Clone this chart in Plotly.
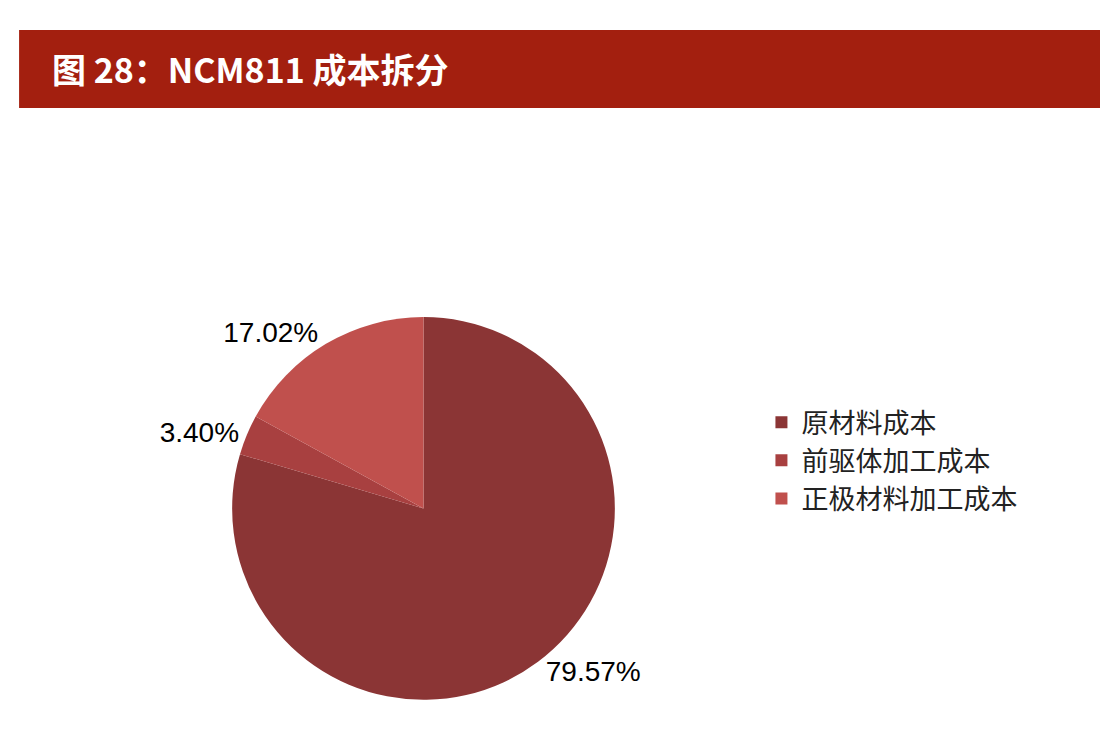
import plotly.graph_objects as go

categories = ["原材料成本", "前驱体加工成本", "正极材料加工成本"]
values = [79.57, 3.40, 17.02]
label_text = ["79.57%", "3.40%", "17.02%"]
colors = ["#8B3535", "#A84040", "#C0504D"]

fig = go.Figure(go.Pie(
    labels=categories, values=values, text=label_text,
    texttemplate="%{text}", textposition="outside", textinfo="text",
    sort=False, direction="clockwise", rotation=0,
    marker=dict(colors=colors, line=dict(width=0)),
    textfont=dict(size=28, color="black", family="Liberation Sans"),
    domain=dict(x=[0.08, 0.67], y=[0.06, 0.58]),
    showlegend=True,
))
fig.update_layout(
    width=1108, height=736, paper_bgcolor="white", plot_bgcolor="white",
    margin=dict(l=0, r=0, t=0, b=0, autoexpand=False),
    legend=dict(x=0.68, y=0.385, xanchor="left", yanchor="middle",
                font=dict(size=27, color="#222", family="Noto Sans CJK SC"),
                itemsizing="constant"),
    shapes=[dict(type="rect", xref="paper", yref="paper", x0=0.01, x1=0.99,
                 y0=1-100/736, y1=1-22/736, fillcolor="#A31F0F", line=dict(width=0))],
    annotations=[dict(text="<b>图 28：NCM811 成本拆分</b>", xref="paper", yref="paper",
                      x=0.038, y=1-61/736, xanchor="left", yanchor="middle", showarrow=False,
                      font=dict(size=34, color="white", family="Noto Sans CJK SC"))],
)
fig.write_html("out.html")
